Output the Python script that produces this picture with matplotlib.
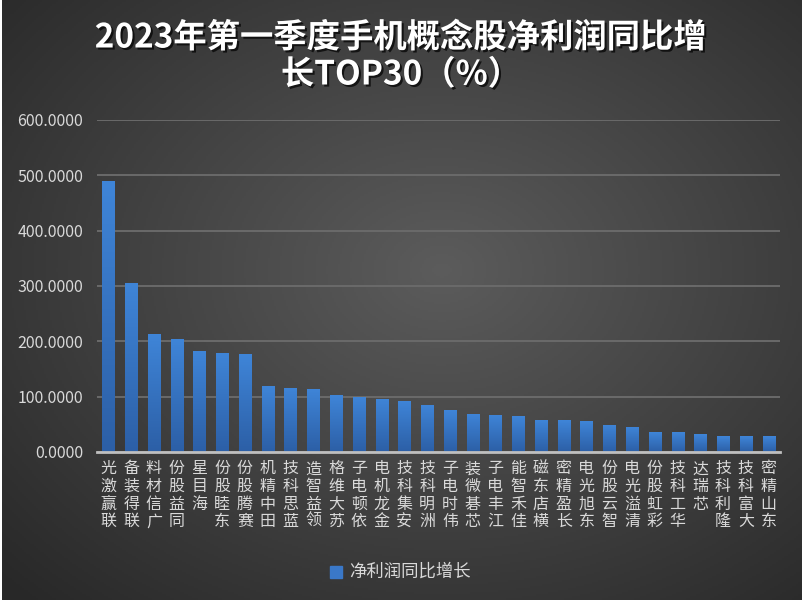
import numpy as np
import matplotlib
matplotlib.use("Agg")
import matplotlib.pyplot as plt
import matplotlib.patheffects as pe
from matplotlib.patches import Rectangle

plt.rcParams["font.family"] = ["Noto Sans CJK SC", "DejaVu Sans"]

names = ["联赢激光", "联得装备", "广信材料", "同益股份", "海目星", "东睦股份",
         "赛腾股份", "田中精机", "蓝思科技", "领益智造", "苏大维格", "依顿电子",
         "金龙机电", "安集科技", "洲明科技", "伟时电子", "芯碁微装", "江丰电子",
         "佳禾智能", "横店东磁", "长盈精密", "东旭光电", "智云股份", "清溢光电",
         "彩虹股份", "华工科技", "芯瑞达", "隆利科技", "大富科技", "东山精密"]
growth = [490.0, 305.6, 213.0, 204.5, 183.0, 179.0, 177.0, 119.0, 115.7, 113.9,
          103.0, 99.4, 95.8, 92.2, 85.0, 75.9, 68.7, 66.9, 65.0, 57.8,
          57.8, 56.0, 48.8, 45.2, 36.1, 36.1, 32.5, 28.9, 28.9, 28.9]
series_name = "净利润同比增长"
yticks = [0, 100, 200, 300, 400, 500, 600]

W, H = 807, 604
fig = plt.figure(figsize=(W / 100, H / 100), dpi=100, facecolor="white")

# radial gradient background
bg = fig.add_axes([2 / W, 4 / H, 800 / W, 600 / H], zorder=-10)
gx, gy = np.meshgrid(np.linspace(0, 1, 400), np.linspace(0, 1, 300))
r = np.sqrt(((gx - 0.55) / 0.75) ** 2 + ((gy - 0.55) / 0.75) ** 2)
r = np.clip(r, 0, 1)
v = 0.36 - 0.20 * r
bg.imshow(np.dstack([v, v, v]), extent=(0, 1, 0, 1), aspect="auto", origin="lower")
bg.set_axis_off()

ax = fig.add_axes([97 / W, 1 - 452 / H, (780 - 97) / W, (452 - 120) / H])
ax.patch.set_alpha(0)

x = np.arange(len(names))
bw = 0.53
grad = np.linspace(0, 1, 100).reshape(-1, 1)
top_c = np.array([0x3f, 0x85, 0xd8]) / 255
bot_c = np.array([0x2c, 0x5f, 0xa6]) / 255
img = bot_c + (top_c - bot_c) * grad[..., None]
for xi, h in zip(x, growth):
    rect = Rectangle((xi - bw / 2, 0), bw, h, facecolor="none", edgecolor="none")
    ax.add_patch(rect)
    im = ax.imshow(img, extent=(xi - bw / 2, xi + bw / 2, 0, h), origin="lower",
                   aspect="auto", zorder=3)
    im.set_clip_path(rect)

ax.set_xlim(-0.5, len(names) - 0.5)
ax.set_ylim(0, 600)
ax.set_yticks(yticks)
ax.set_yticklabels([f"{t:.4f}" for t in yticks], color="#d9d9d9", fontsize=11.5)
ax.set_xticks(x)
ax.set_xticklabels(["\n".join(reversed(n)) for n in names], color="#d9d9d9",
                   fontsize=11.5, linespacing=1.05, va="top")
ax.tick_params(axis="both", length=0)
ax.tick_params(axis="y", pad=10)
ax.tick_params(axis="x", pad=6)
for s in ["top", "right", "left"]:
    ax.spines[s].set_visible(False)
ax.spines["bottom"].set_color("#bfbfbf")
ax.spines["bottom"].set_linewidth(2)
ax.spines["bottom"].set_zorder(4)
ax.yaxis.grid(True, color="#6a6a6a", linewidth=1.4)
ax.set_axisbelow(True)

# legend
fig.patches.append(Rectangle((330 / W, 1 - 578 / H), 12 / W, 12 / H,
                             transform=fig.transFigure, color="#3a78c8"))
fig.text(349 / W, 1 - 572 / H, series_name, color="#d9d9d9", fontsize=12.5,
         va="center", ha="left")

shadow = [pe.withSimplePatchShadow(offset=(1.5, -1.5), shadow_rgbFace="black", alpha=0.7)]
fig.text(401 / W, 1 - 38 / H, "2023年第一季度手机概念股净利润同比增", color="white",
         fontsize=24, fontweight="bold", ha="center", va="center", path_effects=shadow)
fig.text(401 / W, 1 - 75 / H, "长TOP30（%）", color="white",
         fontsize=24, fontweight="bold", ha="center", va="center", path_effects=shadow)

fig.savefig("out.png", dpi=100, facecolor="white")
